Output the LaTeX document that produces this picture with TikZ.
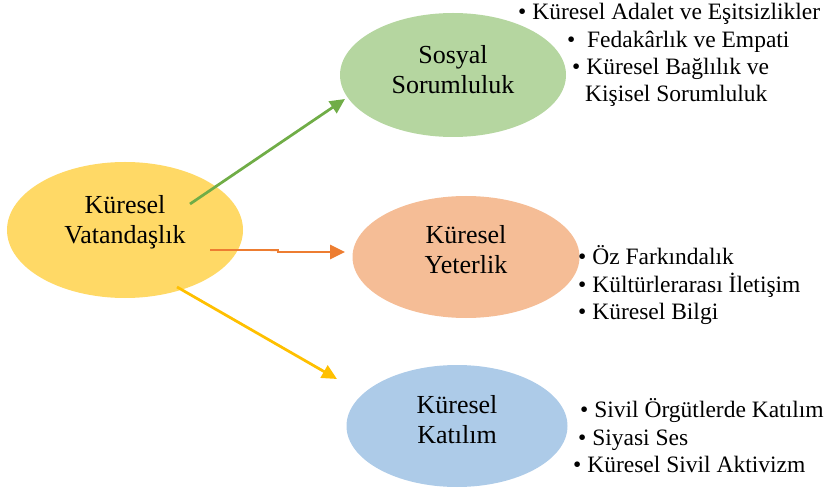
\documentclass[tikz,border=0pt]{standalone}
\usepackage{fontspec}
\IfFontExistsTF{LiberationSerif-Regular.ttf}
  {\setmainfont{LiberationSerif}[Extension=.ttf,UprightFont=*-Regular,BoldFont=*-Bold,ItalicFont=*-Italic,BoldItalicFont=*-BoldItalic]}
  {\setmainfont{Liberation Serif}}
\usetikzlibrary{shapes.geometric,arrows.meta}
\definecolor{cyellow}{HTML}{FFD966}
\definecolor{cgreen}{HTML}{B5D6A0}
\definecolor{corange}{HTML}{F5BD96}
\definecolor{cblue}{HTML}{ADCBE8}
\definecolor{agreen}{HTML}{70AD47}
\definecolor{aorange}{HTML}{ED7D31}
\definecolor{ayellow}{HTML}{FFC000}
\begin{document}
\begin{tikzpicture}[x=1bp,y=-1bp,
  ell/.style={ellipse, draw=none, inner sep=0pt},
  etext/.style={font=\rmfamily\fontsize{26bp}{30bp}\selectfont, align=center, inner sep=0pt, anchor=north},
  btext/.style={font=\rmfamily\fontsize{23.5bp}{28bp}\selectfont, inner sep=0pt, anchor=base west},
  arr/.style={line width=2.75bp, -{Triangle[length=15bp,width=14bp]}}]
\useasboundingbox (0,0) rectangle (832,492);
% ellipses
\node[ell, fill=cyellow, minimum width=236bp, minimum height=136bp] (kv) at (125,230) {};
\node[ell, fill=cgreen, minimum width=226bp, minimum height=124bp] (ss) at (453,75) {};
\node[ell, fill=corange, minimum width=227bp, minimum height=122bp] (ky) at (466,257) {};
\node[ell, fill=cblue, minimum width=221bp, minimum height=122bp] (kk) at (457,426) {};
% ellipse texts
\node[etext] (kvt) at (125,195) {Küresel\\Vatandaşlık};
\node[etext] (sst) at (453,45) {Sosyal\\Sorumluluk};
\node[etext] (kyt) at (466,225) {Küresel\\Yeterlik};
\node[etext] (kkt) at (457,395) {Küresel\\Katılım};
% bullet lists
\node[btext] (g1) at (518,20) {• Küresel Adalet ve Eşitsizlikler};
\node[btext] (g2) at (567,48) {•\ \ Fedakârlık ve Empati};
\node[btext] (g3) at (572,75) {• Küresel Bağlılık ve};
\node[btext] (g4) at (585,102) {Kişisel Sorumluluk};
\node[btext] (o1) at (578,265) {• Öz Farkındalık};
\node[btext] (o2) at (578,293) {• Kültürlerarası İletişim};
\node[btext] (o3) at (578,320) {• Küresel Bilgi};
\node[btext] (b1) at (580,417) {• Sivil Örgütlerde Katılım};
\node[btext] (b2) at (578,445) {• Siyasi Ses};
\node[btext] (b3) at (573,472) {• Küresel Sivil Aktivizm};
% arrows
\coordinate (gs) at (190,204);
\coordinate (ge) at (345,99);
\coordinate (os) at (210,250);
\coordinate (oj) at (278,250);
\coordinate (ok) at (278,252);
\coordinate (oe) at (345,252);
\coordinate (ys) at (177,287);
\coordinate (ye) at (337,379);
\draw[arr, draw=agreen, fill=agreen] (gs) -- (ge);
\draw[arr, draw=aorange, fill=aorange] (os) -- (oj) -- (ok) -- (oe);
\draw[arr, draw=ayellow, fill=ayellow] (ys) -- (ye);
\end{tikzpicture}
\end{document}
